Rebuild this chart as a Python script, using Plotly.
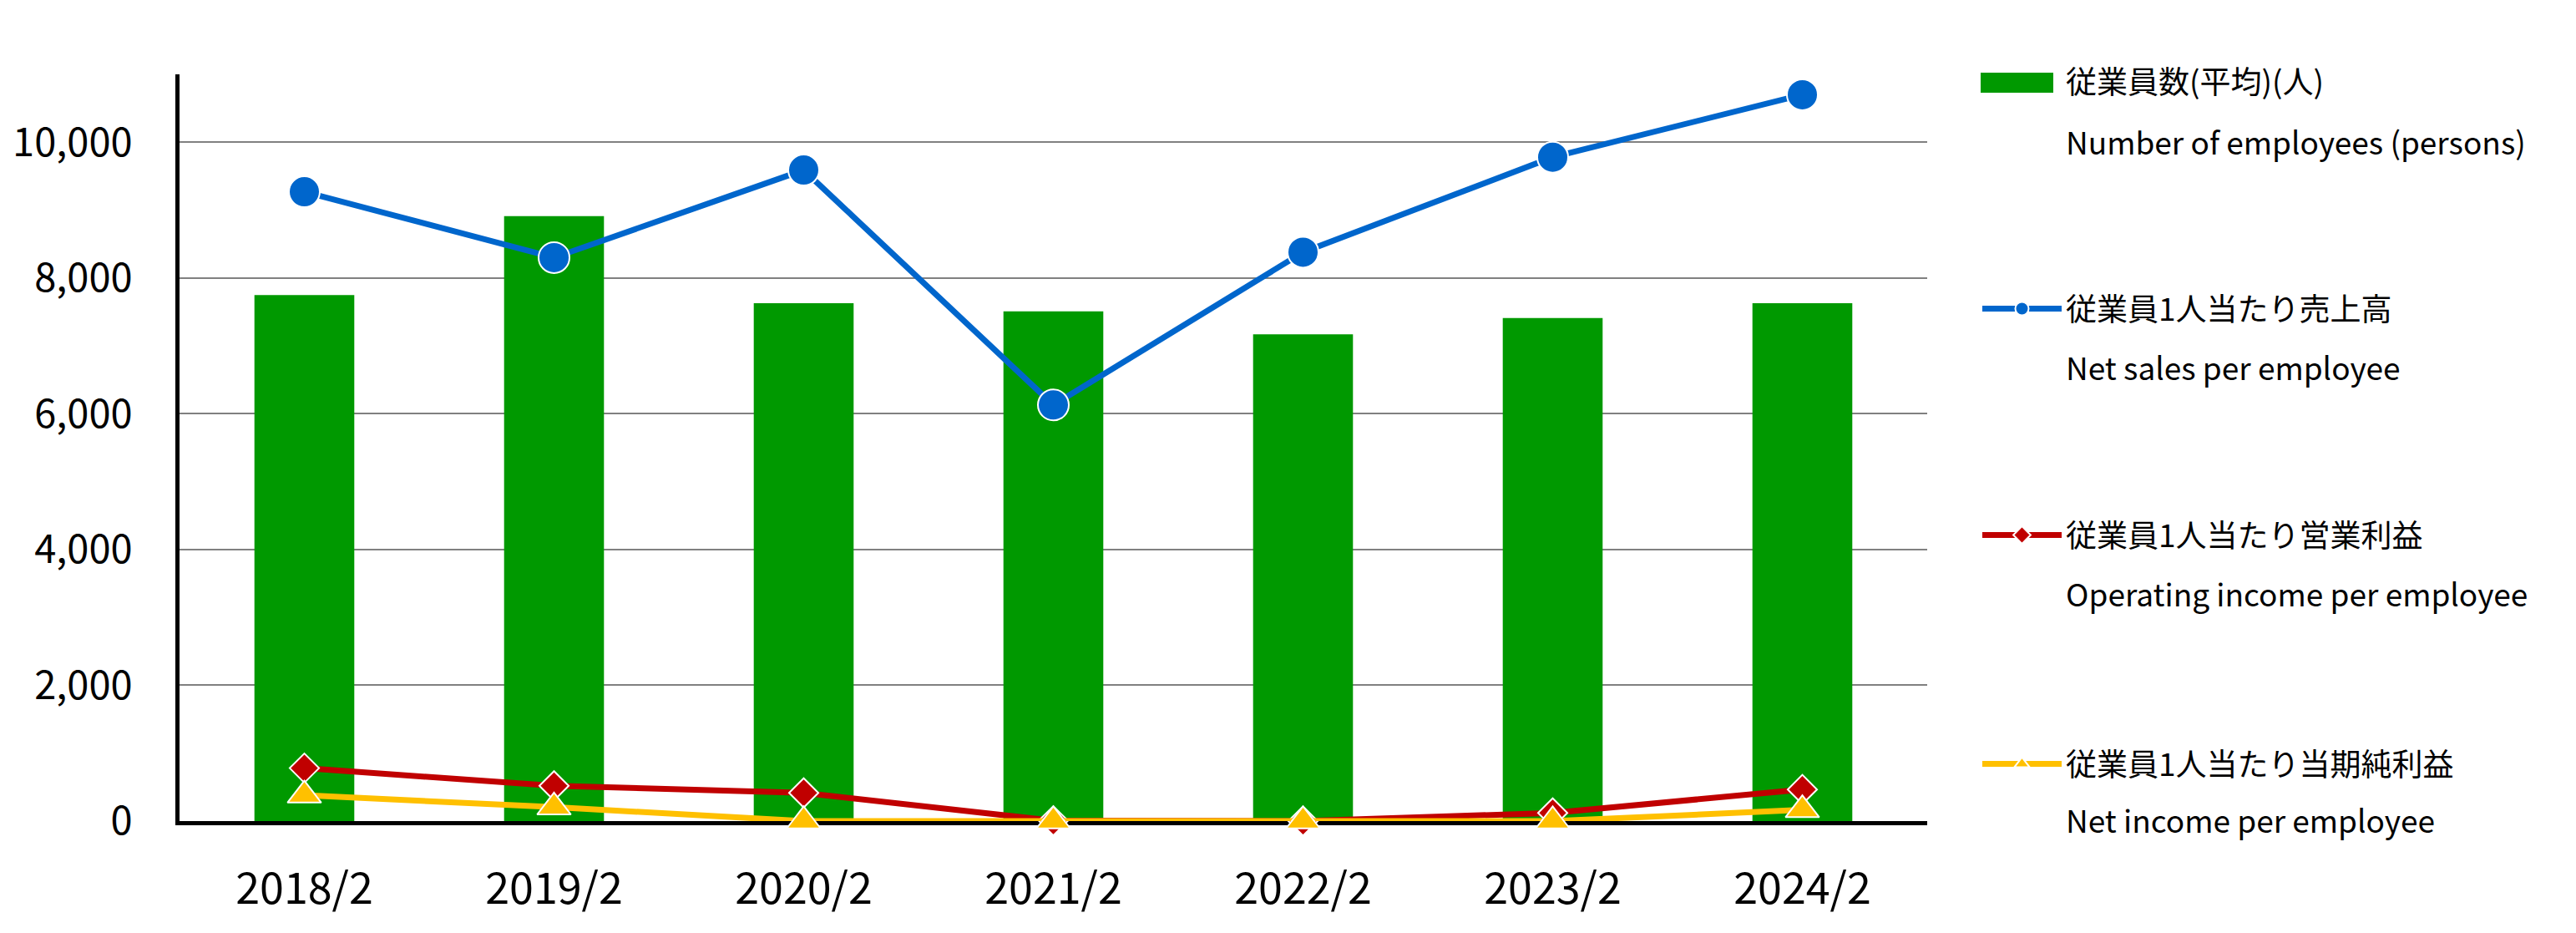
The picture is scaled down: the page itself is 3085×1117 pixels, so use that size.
import plotly.graph_objects as go

categories = ["2018/2", "2019/2", "2020/2", "2021/2", "2022/2", "2023/2", "2024/2"]
employees = [7750, 8910, 7630, 7510, 7170, 7410, 7630]
sales_per_emp = [9270, 8300, 9590, 6130, 8380, 9780, 10700]
op_income_per_emp = [780, 520, 415, 5, 0, 120, 465]
net_income_per_emp = [380, 205, 0, 0, 0, 0, 165]

names_jp = ["従業員数(平均)(人)", "従業員1人当たり売上高", "従業員1人当たり営業利益", "従業員1人当たり当期純利益"]
names_en = ["Number of employees (persons)", "Net sales per employee",
            "Operating income per employee", "Net income per employee"]

GREEN = "#009900"
BLUE = "#0066CC"
RED = "#C00000"
YELLOW = "#FFC000"

W, H = 3085, 1117
ML, MR, MT, MB = 207, 785, 81, 142
plot_w = W - ML - MR
plot_h = H - MT - MB

fig = go.Figure()
fig.add_trace(go.Bar(x=categories, y=employees, name=names_jp[0], marker=dict(color=GREEN, line=dict(width=0)),
                     width=0.4, legend="legend"))
fig.add_trace(go.Scatter(x=categories, y=sales_per_emp, name=names_jp[1], mode="lines+markers",
                         line=dict(color=BLUE, width=7), cliponaxis=False,
                         marker=dict(symbol="circle", size=37, color=BLUE, line=dict(color="white", width=2)),
                         legend="legend2"))
fig.add_trace(go.Scatter(x=categories, y=op_income_per_emp, name=names_jp[2], mode="lines+markers",
                         line=dict(color=RED, width=7), cliponaxis=False,
                         marker=dict(symbol="diamond", size=27, color=RED, line=dict(color="white", width=2)),
                         legend="legend3"))
fig.add_trace(go.Scatter(x=categories, y=net_income_per_emp, name=names_jp[3], mode="lines+markers",
                         line=dict(color=YELLOW, width=7), cliponaxis=False,
                         marker=dict(symbol="triangle-up", size=35, color=YELLOW, line=dict(color="white", width=2)),
                         legend="legend4"))

# English legend lines (no symbol)
for i, en in enumerate(names_en):
    fig.add_trace(go.Scatter(x=[None], y=[None], mode="lines", name=en,
                             line=dict(color="rgba(0,0,0,0)", width=0), hoverinfo="skip",
                             legend=f"legend{5 + i}"))

def ypaper(px):
    return (H - MB - px) / plot_h

def xpaper(px):
    return (px - ML) / plot_w

legend_font = dict(family="Noto Sans CJK JP", size=37, color="#000000")
leg_x = xpaper(2361)
jp_y = [90, 362, 633, 907]
en_y = [163, 433, 704, 975]
layout_legends = {}
for i in range(4):
    key = "legend" if i == 0 else f"legend{i + 1}"
    layout_legends[key] = dict(x=leg_x, y=ypaper(jp_y[i]), xanchor="left", yanchor="middle",
                               font=legend_font, bgcolor="rgba(0,0,0,0)", itemwidth=95,
                               borderwidth=0)
    layout_legends[f"legend{5 + i}"] = dict(x=leg_x, y=ypaper(en_y[i]), xanchor="left", yanchor="middle",
                                            font=legend_font, bgcolor="rgba(0,0,0,0)", itemwidth=95,
                                            borderwidth=0)

fig.update_layout(
    width=W, height=H,
    margin=dict(l=ML, r=MR, t=MT, b=MB, pad=0, autoexpand=False),
    plot_bgcolor="white", paper_bgcolor="white",
    showlegend=True,
    hovermode=False,
    xaxis=dict(type="category", showgrid=False, showline=True, linecolor="#000000", linewidth=5,
               ticks="", layer="below traces",
               tickfont=dict(family="Noto Sans CJK JP", size=52, color="#000000"),
               ticklabelstandoff=32, zeroline=False),
    yaxis=dict(range=[0, 11000], dtick=2000, tick0=0, showgrid=True, gridcolor="#808080", gridwidth=2,
               showline=True, linecolor="#000000", linewidth=5, ticks="", tickformat=",d",
               layer="below traces",
               tickfont=dict(family="Noto Sans CJK JP", size=47, color="#000000"),
               zeroline=False, ticklabelstandoff=42),
    shapes=[dict(type="rect", xref="paper", yref="paper",
                 x0=xpaper(2364), x1=xpaper(2451), y0=ypaper(103), y1=ypaper(79),
                 fillcolor=GREEN, line=dict(width=0), layer="above")],
    **layout_legends,
)

fig.write_html("out.html")
